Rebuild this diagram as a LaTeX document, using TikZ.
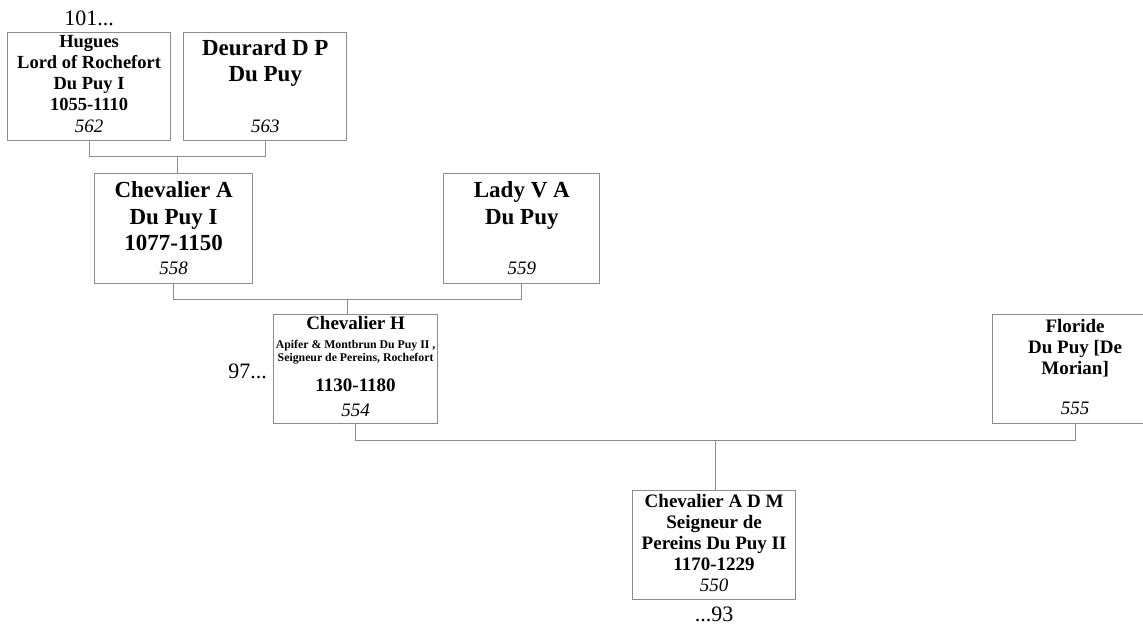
\documentclass[tikz,border=0pt]{standalone}
\usepackage{fontspec}
\setmainfont{Liberation Serif}
\usetikzlibrary{positioning, calc}
\definecolor{treeGrey}{HTML}{8C8C8C}

\begin{document}
\begin{tikzpicture}[
  x=1pt, y=-1pt,
  person/.style={draw=treeGrey, line width=1.2pt, anchor=north west, inner sep=0pt,
                 minimum height=108pt},
  % multi-line names sit on the baseline of their last line
  nmA/.style={anchor=base, align=center, inner sep=0pt, font=\bfseries\fontsize{18.5}{21}\selectfont},
  nmB/.style={anchor=base, align=center, inner sep=0pt, font=\bfseries\fontsize{23}{26.5}\selectfont},
  nmC/.style={anchor=base, align=center, inner sep=0pt, font=\bfseries\fontsize{19}{21}\selectfont},
  ttl/.style={anchor=base, align=center, inner sep=0pt, font=\bfseries\fontsize{11.8}{13}\selectfont},
  num/.style={anchor=base, inner sep=0pt, font=\itshape\fontsize{19}{21}\selectfont},
  more/.style={anchor=base, inner sep=0pt, font=\fontsize{22}{24}\selectfont},
  rel/.style={draw=treeGrey, line width=1.2pt},
]
\useasboundingbox (0,0) rectangle (1143,628);

% boxes
\node[person, minimum width=163pt] (hugues) at (7,32) {};
\node[person, minimum width=163pt, right=12pt of hugues] (deurard) {};
\node[person, minimum width=158pt, minimum height=110pt] (chevA) at (94,173) {};
\node[person, minimum width=156pt, minimum height=110pt, right=190pt of chevA] (ladyV) {};
\node[person, minimum width=164pt, minimum height=109pt] (chevH) at (273,314) {};
\node[person, minimum width=165pt, minimum height=109pt] (floride) at (992,314) {};
\node[person, minimum width=163pt, minimum height=109pt] (chevADM) at (632,490) {};

% names and numbers
\node[nmA] (hugues-n) at ([yshift=-79pt]hugues.north) {Hugues\\Lord of Rochefort\\Du Puy I\\1055-1110};
\node[num] (hugues-i) at ([yshift=9pt]hugues.south) {562};
\node[more] (hugues-up) at ([yshift=6pt]hugues.north) {101...};

\node[nmB] (deurard-n) at ([yshift=-50pt]deurard.north) {Deurard D P\\Du Puy};
\node[num] (deurard-i) at ([yshift=9pt]deurard.south) {563};

\node[nmB] (chevA-n) at ([yshift=-78pt]chevA.north) {Chevalier A\\Du Puy I\\1077-1150};
\node[num] (chevA-i) at ([yshift=10pt]chevA.south) {558};

\node[nmB] (ladyV-n) at ([yshift=-51.5pt]ladyV.north) {Lady V A\\Du Puy};
\node[num] (ladyV-i) at ([yshift=10pt]ladyV.south) {559};

\node[nmC] (chevH-n) at ([yshift=-16pt]chevH.north) {Chevalier H};
\node[ttl] (chevH-t) at ([yshift=-47pt]chevH.north) {Apifer \& Montbrun Du Puy II ,\\Seigneur de Pereins, Rochefort};
\node[nmC] (chevH-d) at ([yshift=-77pt]chevH.north) {1130-1180};
\node[num] (chevH-i) at ([yshift=8pt]chevH.south) {554};
\node[more, anchor=base east] (chevH-up) at ([xshift=-6pt, yshift=-9.5pt]chevH.west) {97...};

\node[nmC] (floride-n) at ([yshift=-60pt]floride.north) {Floride\\Du Puy [De\\Morian]};
\node[num] (floride-i) at ([yshift=10pt]floride.south) {555};

\node[nmC] (chevADM-n) at ([yshift=-80pt]chevADM.north) {Chevalier A D M\\Seigneur de\\Pereins Du Puy II\\1170-1229};
\node[num] (chevADM-i) at ([yshift=9pt]chevADM.south) {550};
\node[more] (chevADM-dn) at ([yshift=-21pt]chevADM.south) {...93};

% couples and children
\coordinate (j1) at ($(hugues.south)!0.5!(deurard.south)+(0,15)$);
\coordinate (j2) at ($(chevA.south)!0.5!(ladyV.south)+(0,15)$);
\coordinate (j3) at ($(chevH.south)!0.5!(floride.south)+(0,16)$);

\draw[rel] (hugues.south) |- (j1) -| (deurard.south);
\draw[rel] (j1) -- (j1 |- chevA.north);
\draw[rel] (chevA.south) |- (j2) -| (ladyV.south);
\draw[rel] (j2) -- (j2 |- chevH.north);
\draw[rel] (chevH.south) |- (j3) -| (floride.south);
\draw[rel] (j3) -- (j3 |- chevADM.north);
\end{tikzpicture}
\end{document}
